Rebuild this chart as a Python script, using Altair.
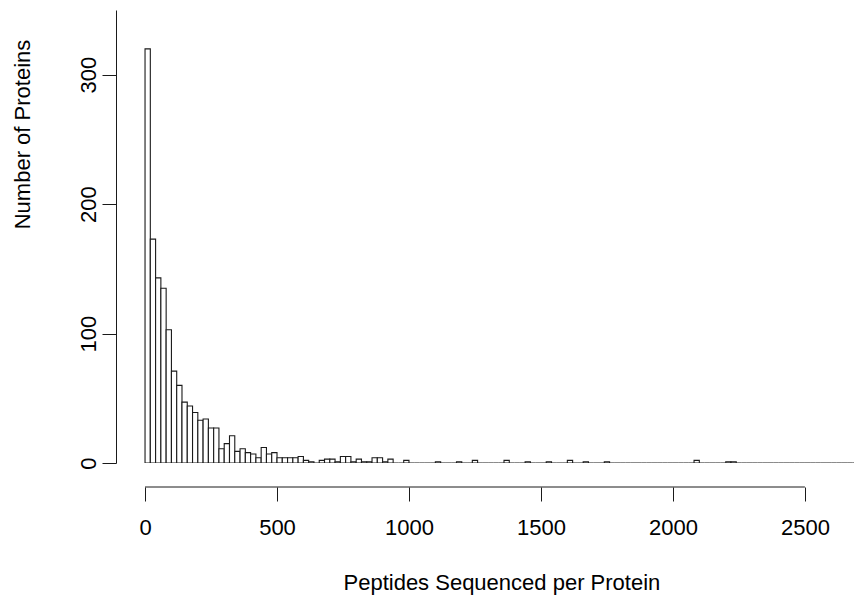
import altair as alt
import pandas as pd

# Histogram of peptides sequenced per protein (bin width 20)
bin_width = 20
# counts for bins starting at 0, 20, 40, ... 980
head_counts = [320, 173, 143, 135, 103, 71, 60, 47, 44, 39,
               33, 34, 27, 27, 11, 15, 21, 9, 11, 8,
               7, 4, 12, 7, 8, 4, 4, 4, 4, 5,
               2, 1, 0, 2, 3, 3, 1, 5, 5, 1,
               3, 1, 1, 4, 4, 1, 3, 0, 0, 2]
# sparse tail: bin start -> count
tail_starts = [1100, 1180, 1240, 1360, 1440, 1520, 1600, 1660, 1740, 2080, 2200, 2220, 2700]
tail_counts = [1, 1, 2, 2, 1, 1, 2, 1, 1, 2, 1, 1, 1]
last_bin_start = 2700

x_ticks = [0, 500, 1000, 1500, 2000, 2500]
y_ticks = [0, 100, 200, 300]

tail = dict(zip(tail_starts, tail_counts))
rows = []
for k in range(last_bin_start // bin_width + 1):
    start = k * bin_width
    if k < len(head_counts):
        c = head_counts[k]
    else:
        c = tail.get(start, 0)
    rows.append({"start": start, "end": start + bin_width, "count": c})
df = pd.DataFrame(rows)

FONT = "Liberation Sans"
INK = "#1a1a1a"

x_scale = alt.Scale(domain=[-110, 2686], nice=False, zero=False)
y_scale = alt.Scale(domain=[0, 350], nice=False)

bars = alt.Chart(df).mark_bar(
    fill="white", stroke=INK, strokeWidth=1.1, clip=True
).encode(
    x=alt.X("start:Q", scale=x_scale,
            axis=alt.Axis(values=x_ticks, domain=False, offset=24, tickSize=14,
                          tickColor=INK, tickWidth=1, labelFont=FONT, labelFontSize=22,
                          labelColor="black", labelPadding=16, grid=False,
                          title="Peptides Sequenced per Protein", titleFont=FONT,
                          titleFontSize=22, titleFontWeight="normal", titleColor="black",
                          titlePadding=34, titleX=227, titleAnchor="start",
                          labelFlush=False, format="d")),
    x2="end:Q",
    y=alt.Y("count:Q", scale=y_scale,
            axis=alt.Axis(values=y_ticks, domain=True, domainColor=INK, domainWidth=1,
                          tickSize=14, tickColor=INK, tickWidth=1, labelFont=FONT,
                          labelFontSize=22, labelColor="black", labelAngle=270,
                          labelAlign="center", labelBaseline="bottom", labelPadding=2,
                          grid=False, title="Number of Proteins", titleFont=FONT,
                          titleFontSize=22, titleFontWeight="normal", titleColor="black",
                          titleAngle=270, titleX=-94, titleY=124, titleAlign="center",
                          titleBaseline="middle", format="d")),
    y2=alt.datum(0),
)

axis_line_df = pd.DataFrame({"a": [x_ticks[0]], "b": [x_ticks[-1]]})
x_axis_line = alt.Chart(axis_line_df).mark_rule(color=INK, strokeWidth=1).encode(
    x=alt.X("a:Q", scale=x_scale),
    x2="b:Q",
    y=alt.value(477),
)

chart = alt.layer(bars, x_axis_line).properties(
    width=738, height=453,
    autosize=alt.AutoSizeParams(type="none"),
    padding={"left": 108, "top": 2, "right": 0, "bottom": 132},
).configure(background="white").configure_view(strokeWidth=0, stroke="transparent")

chart.save("out.html", embed_options={"renderer": "svg", "actions": False})
